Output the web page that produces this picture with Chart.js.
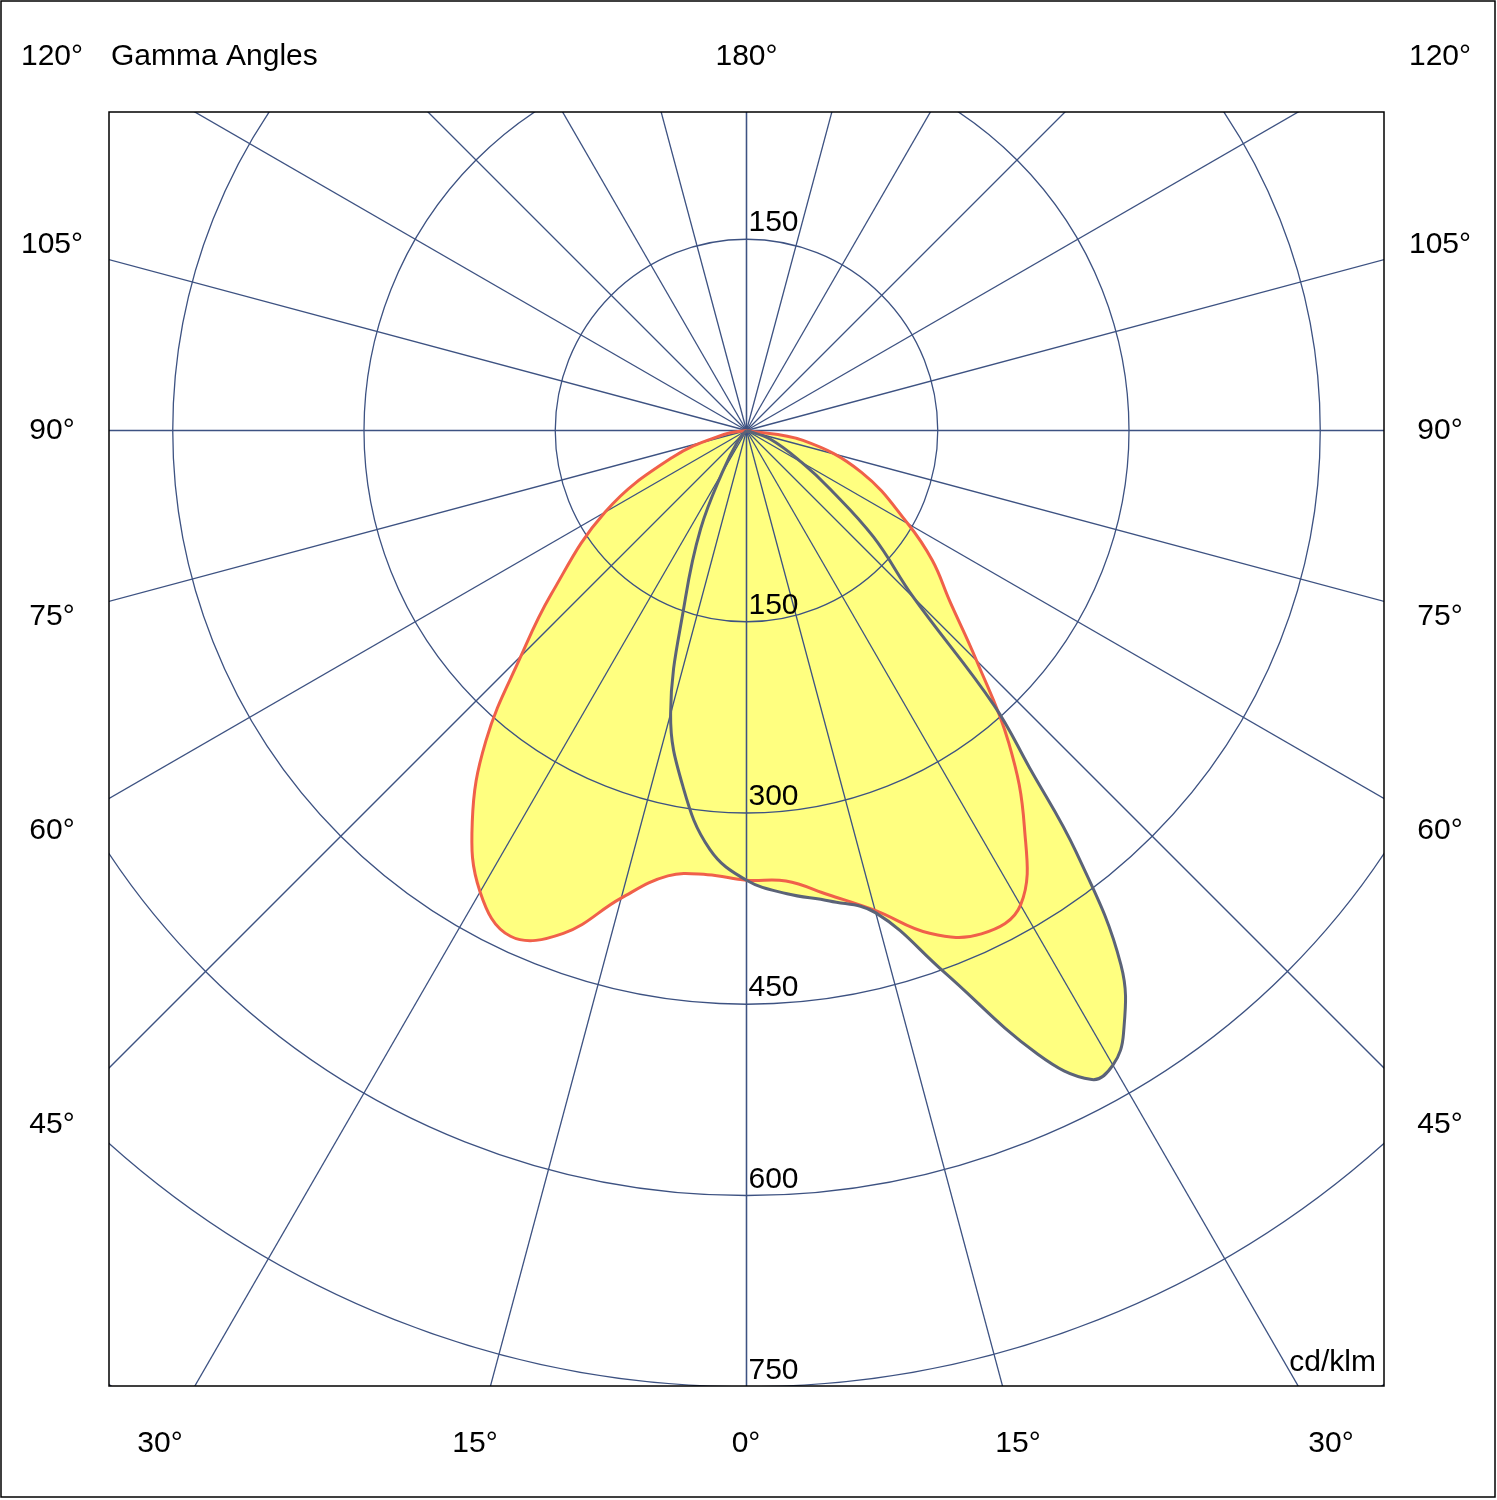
<!DOCTYPE html>
<html><head><meta charset="utf-8">
<script src="https://cdn.jsdelivr.net/npm/chart.js@4/dist/chart.umd.min.js"></script>
<style>html,body{margin:0;padding:0;background:#fff}#w{width:1497px;height:1500px}</style>
</head><body><div id="w"><canvas id="c"></canvas></div>
<script>
// Gamma angles (degrees, negative = left half) and intensities (cd/klm)
const redAngles = [-90,-80,-70,-60,-50,-45,-40,-35,-30,-25,-20,-15,-10,-5,0,5,10,15,20,25,30,35,40,45,50,55,60,70,80,90];
const redValues = [0,18,62,128,200,250,318,375,418,438,420,380,355,350,353,355,370,390,420,436,430,380,320,255,208,178,146,96,45,0];
const grayAngles = [-90,-40,-30,-25,-20,-15,-10,-5,0,5,10,15,20,25,28,30,32,35,38,40,42,45,50,55,60,70,90];
const grayValues = [0,10,38,85,140,230,285,330,353,365,375,392,452,540,577,575,558,512,420,345,290,185,130,80,50,20,0];
const ringValues = [150,300,450,600,750,900];
const ringLabels = ["150","300","450","600","750"];
const spokeAngles = [0,15,30,45,60,75,90,105,120,135,150,165,180];

function toXY(angles, values){
  return angles.map((a,i)=>{const r=a*Math.PI/180;return {x:values[i]*Math.sin(r), y:-values[i]*Math.cos(r)};});
}
const FONT='"Liberation Sans", Arial, sans-serif';
function drawGrid(ch){
  const {ctx,scales:{x,y},chartArea:a}=ch;
  const cx=x.getPixelForValue(0), cy=y.getPixelForValue(0);
  const k=x.getPixelForValue(1)-cx;
  ctx.save();
  ctx.beginPath();ctx.rect(a.left,a.top,a.right-a.left,a.bottom-a.top);ctx.clip();
  ctx.strokeStyle='#3d5282';ctx.lineWidth=1.3;
  ringValues.forEach(v=>{ctx.beginPath();ctx.arc(cx,cy,v*k,0,2*Math.PI);ctx.stroke();});
  spokeAngles.forEach(g=>{[1,-1].forEach(s=>{const r=g*Math.PI/180;ctx.beginPath();ctx.moveTo(cx,cy);
    ctx.lineTo(cx+s*2000*Math.sin(r),cy+2000*Math.cos(r));ctx.stroke();});});
  ctx.restore();
}
const gridPlugin={id:'grid',
  beforeDatasetDraw(ch,args){ if(args.index===2) drawGrid(ch); },
  afterDatasetsDraw(ch){
    const {ctx,scales:{x,y},chartArea:a}=ch;
    const cx=x.getPixelForValue(0), cy=y.getPixelForValue(0);
    const k=x.getPixelForValue(1)-cx;
    ctx.save();
    ctx.fillStyle='#000';ctx.font='30px '+FONT;ctx.textBaseline='alphabetic';ctx.textAlign='left';
    ctx.fillText('150',cx+2,cy-150*k-8);
    ringLabels.forEach((t,i)=>ctx.fillText(t,cx+2,cy+ringValues[i]*k-8));
    ctx.textAlign='right';ctx.fillText('cd/klm',a.right-8,a.bottom-15);
    ctx.strokeStyle='#000';ctx.lineWidth=1.5;ctx.strokeRect(a.left,a.top,a.right-a.left,a.bottom-a.top);
    ctx.strokeRect(1,1,1494,1496);
    ctx.textAlign='center';ctx.textBaseline='middle';
    const side=[['120°',57],['105°',245],['90°',431],['75°',617],['60°',831],['45°',1125]];
    side.forEach(([t,yy])=>{ctx.fillText(t,52,yy);ctx.fillText(t,1440,yy);});
    ctx.fillText('180°',cx,57);
    ctx.textAlign='left';ctx.fillText('Gamma Angles',111,57);ctx.textAlign='center';
    [['30°',160],['15°',475],['0°',746],['15°',1018],['30°',1331]].forEach(([t,xx])=>ctx.fillText(t,xx,1444));
    ctx.restore();
  }};
new Chart(document.getElementById('c'),{
  type:'scatter',
  data:{datasets:[
    {data:toXY(redAngles,redValues),order:4,showLine:true,fill:'shape',backgroundColor:'#ffff80',borderWidth:0,borderColor:'rgba(0,0,0,0)',tension:0.4,pointRadius:0},
    {data:toXY(grayAngles,grayValues),order:3,showLine:true,fill:'shape',backgroundColor:'#ffff80',borderWidth:0,borderColor:'rgba(0,0,0,0)',tension:0.4,pointRadius:0},
    {data:toXY(redAngles,redValues),order:2,showLine:true,fill:false,borderColor:'#f0604a',borderWidth:3,tension:0.4,pointRadius:0},
    {data:toXY(grayAngles,grayValues),order:1,showLine:true,fill:false,borderColor:'#5b6378',borderWidth:3,tension:0.4,pointRadius:0}
  ]},
  options:{responsive:true,maintainAspectRatio:false,animation:false,
    layout:{padding:{left:109,right:113,top:112,bottom:114}},
    plugins:{legend:{display:false},tooltip:{enabled:false}},
    scales:{x:{type:'linear',min:-500,max:500,display:false},y:{type:'linear',min:-750,max:250,display:false}}},
  plugins:[gridPlugin]
});
</script></body></html>
